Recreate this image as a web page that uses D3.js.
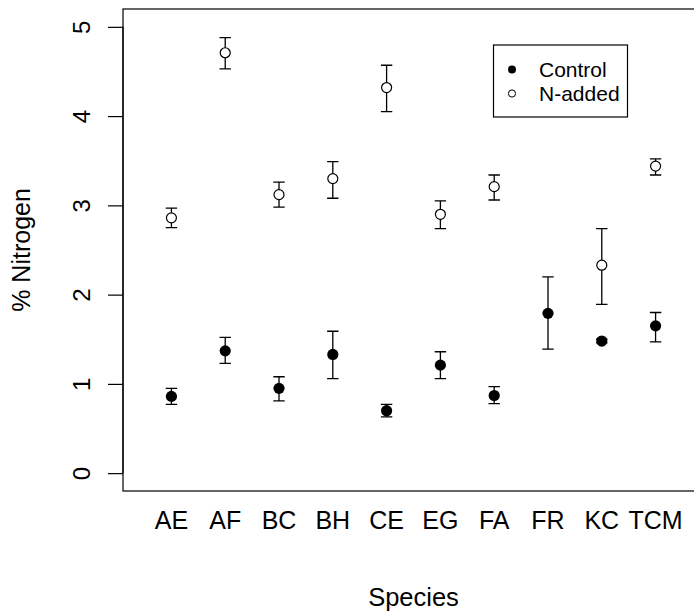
<!DOCTYPE html>
<html>
<head>
<meta charset="utf-8">
<script src="https://cdn.jsdelivr.net/npm/d3@7"></script>
<style>
  body { margin: 0; background: #fff; }
  svg { display: block; font-family: "Liberation Sans", Arial, sans-serif; }
</style>
</head>
<body>
<div id="chart"></div>
<script>
const species = ["AE", "AF", "BC", "BH", "CE", "EG", "FA", "FR", "KC", "TCM"];

// Control (filled points)
const controlMean = [0.86, 1.37, 0.95, 1.33, 0.70, 1.21, 0.87, 1.79, 1.48, 1.65];
const controlLow  = [0.77, 1.23, 0.81, 1.06, 0.63, 1.06, 0.78, 1.39, 1.46, 1.47];
const controlHigh = [0.95, 1.52, 1.08, 1.59, 0.77, 1.36, 0.97, 2.20, 1.50, 1.80];

// N-added (open points); FR has no value
const nMean = [2.86, 4.71, 3.12, 3.30, 4.32, 2.90, 3.21, null, 2.33, 3.44];
const nLow  = [2.75, 4.53, 2.98, 3.08, 4.05, 2.74, 3.06, null, 1.89, 3.34];
const nHigh = [2.97, 4.88, 3.26, 3.49, 4.57, 3.05, 3.34, null, 2.74, 3.52];

const yTicks = [0, 1, 2, 3, 4, 5];
const legendLabels = ["Control", "N-added"];

const width = 694, height = 614;
const plot = { left: 123, right: 704, top: 9, bottom: 491 };

const svg = d3.select("#chart").append("svg")
    .attr("width", width)
    .attr("height", height);

// x: positions 1..10, xlim c(0.5, 10.5) with R's 4% padding
const x = d3.scaleLinear()
    .domain([0.1, 10.9])
    .range([plot.left, plot.right]);

const y = d3.scaleLinear()
    .domain([-0.2, 5.2])
    .range([plot.bottom, plot.top]);

// plot box
svg.append("rect")
    .attr("x", plot.left)
    .attr("y", plot.top)
    .attr("width", plot.right - plot.left)
    .attr("height", plot.bottom - plot.top)
    .attr("fill", "none")
    .attr("stroke", "#000")
    .attr("stroke-width", 1.2);

// y axis
const yAxis = svg.append("g")
    .attr("transform", `translate(${plot.left},0)`)
    .call(d3.axisLeft(y).tickValues(yTicks).tickSize(15).tickPadding(0).tickFormat(d3.format("d")));
yAxis.select(".domain")
    .attr("d", `M0,${y(0)}V${y(5)}`)
    .attr("stroke", "#000")
    .attr("stroke-width", 1.2);
yAxis.selectAll(".tick line").attr("stroke", "#000").attr("stroke-width", 1.2);
yAxis.selectAll(".tick text")
    .attr("x", 0).attr("y", 0).attr("dy", null)
    .attr("transform", "translate(-42,0) rotate(-90)")
    .attr("text-anchor", "middle")
    .attr("dominant-baseline", "central")
    .attr("font-size", "24px")
    .attr("font-family", "Liberation Sans, Arial, sans-serif")
    .attr("fill", "#000");

// x labels (no ticks)
svg.append("g")
    .selectAll("text")
    .data(species)
    .join("text")
    .attr("x", (d, i) => x(i + 1))
    .attr("y", 529)
    .attr("text-anchor", "middle")
    .attr("font-size", "25px")
    .attr("fill", "#000")
    .text(d => d);

// axis titles
svg.append("text")
    .attr("x", (plot.left + plot.right) / 2)
    .attr("y", 606)
    .attr("text-anchor", "middle")
    .attr("font-size", "25.5px")
    .text("Species");

svg.append("text")
    .attr("transform", `translate(30,${(plot.top + plot.bottom) / 2}) rotate(-90)`)
    .attr("text-anchor", "middle")
    .attr("font-size", "25px")
    .text("% Nitrogen");

function errorBars(mean, low, high) {
    const data = mean.map((m, i) => ({ i, m, lo: low[i], hi: high[i] })).filter(d => d.m != null);
    const g = svg.append("g").attr("stroke", "#000").attr("stroke-width", 1.3).attr("fill", "none");
    g.selectAll("path")
        .data(data)
        .join("path")
        .attr("d", d => {
            const cx = x(d.i + 1), w = 5.7;
            return `M${cx},${y(d.lo)}V${y(d.hi)}M${cx - w},${y(d.hi)}H${cx + w}M${cx - w},${y(d.lo)}H${cx + w}`;
        });
    return data;
}

// N-added
const nData = errorBars(nMean, nLow, nHigh);
svg.append("g")
    .selectAll("circle")
    .data(nData)
    .join("circle")
    .attr("cx", d => x(d.i + 1))
    .attr("cy", d => y(d.m))
    .attr("r", 5)
    .attr("fill", "#fff")
    .attr("stroke", "#000")
    .attr("stroke-width", 1.2);

// Control
const cData = errorBars(controlMean, controlLow, controlHigh);
svg.append("g")
    .selectAll("circle")
    .data(cData)
    .join("circle")
    .attr("cx", d => x(d.i + 1))
    .attr("cy", d => y(d.m))
    .attr("r", 5.6)
    .attr("fill", "#000");

// legend
const legend = svg.append("g");
legend.append("rect")
    .attr("x", 493.5).attr("y", 45)
    .attr("width", 134).attr("height", 72)
    .attr("fill", "#fff")
    .attr("stroke", "#000")
    .attr("stroke-width", 1.2);

const legendItem = legend.selectAll("g.item")
    .data(legendLabels)
    .join("g")
    .attr("class", "item")
    .attr("transform", (d, i) => `translate(512,${69.5 + i * 24})`);

legendItem.append("circle")
    .attr("r", (d, i) => i === 0 ? 4 : 3.6)
    .attr("fill", (d, i) => i === 0 ? "#000" : "#fff")
    .attr("stroke", "#000")
    .attr("stroke-width", (d, i) => i === 0 ? 0 : 1);

legendItem.append("text")
    .attr("x", 27)
    .attr("y", 0)
    .attr("dy", "0.35em")
    .attr("font-size", "21px")
    .text(d => d);
</script>
</body>
</html>
